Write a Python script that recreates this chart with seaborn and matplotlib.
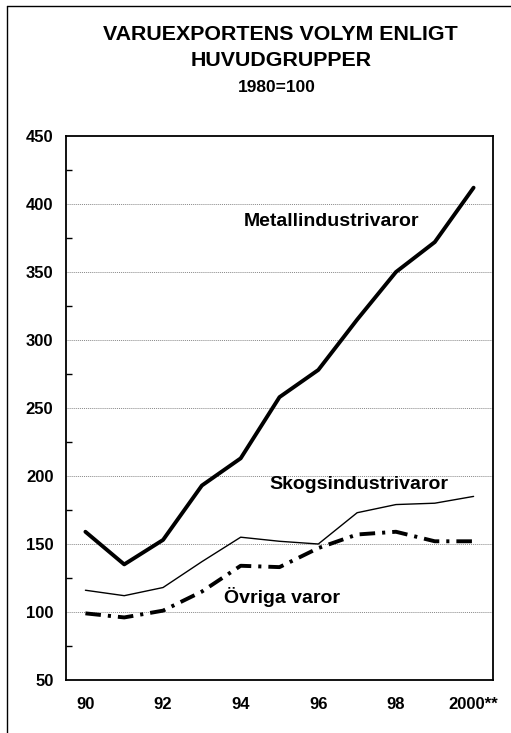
import numpy as np
import pandas as pd
import matplotlib
matplotlib.use("Agg")
import matplotlib.pyplot as plt
from matplotlib.lines import Line2D
from matplotlib.ticker import MultipleLocator, FixedLocator, NullFormatter
import seaborn as sns

# --- data (index 1980=100) ---
years = [1990, 1991, 1992, 1993, 1994, 1995, 1996, 1997, 1998, 1999, 2000]
metall = [159, 135, 153, 193, 213, 258, 278, 315, 350, 372, 412]
skog = [116, 112, 118, 137, 155, 152, 150, 173, 179, 180, 185]
ovriga = [99, 96, 101, 115, 134, 133, 147, 157, 159, 152, 152]
tick_years = [1990, 1992, 1994, 1996, 1998, 2000]
tick_labels = ["90", "92", "94", "96", "98", "2000**"]

df = pd.DataFrame({"year": years, "Metallindustrivaror": metall,
                   "Skogsindustrivaror": skog, "Övriga varor": ovriga})
long_df = df.melt(id_vars="year", var_name="grupp", value_name="index")

sns.set_theme(style="white")
plt.rcParams['font.family'] = ['Liberation Sans', 'DejaVu Sans']
plt.rcParams['font.weight'] = 'bold'
plt.rcParams['text.color'] = 'black'
plt.rcParams['xtick.color'] = 'black'
plt.rcParams['ytick.color'] = 'black'

fig = plt.figure(figsize=(5.11, 7.33), dpi=100)
ax = fig.add_axes([66 / 511, 53 / 733, (493 - 66) / 511, (680 - 136) / 733])

sns.lineplot(data=long_df, x="year", y="index", hue="grupp", style="grupp",
             palette={"Metallindustrivaror": "black", "Skogsindustrivaror": "black",
                      "Övriga varor": "black"},
             dashes={"Metallindustrivaror": "", "Skogsindustrivaror": "",
                     "Övriga varor": (4, 1.8, 0.8, 1.8)},
             size="grupp",
             sizes={"Metallindustrivaror": 2.8, "Skogsindustrivaror": 1.0,
                    "Övriga varor": 2.8},
             legend=False, ax=ax)

ax.set_xlim(1989.5, 2000.5)
ax.set_ylim(50, 450)
ax.set_xlabel("")
ax.set_ylabel("")

# y axis: major every 50, minor every 25
ax.yaxis.set_major_locator(MultipleLocator(50))
ax.yaxis.set_minor_locator(MultipleLocator(25))
ax.tick_params(axis="y", which="major", direction="inout", length=10, width=1.2,
               labelsize=12, pad=4)
ax.tick_params(axis="y", which="minor", direction="in", length=4, width=1.0, left=True)
for lab in ax.get_yticklabels():
    lab.set_fontweight("bold")

# x axis: ticks at category boundaries, labels centred on years
ax.xaxis.set_major_locator(FixedLocator(np.arange(1989.5, 2001, 1.0)))
ax.xaxis.set_major_formatter(NullFormatter())
ax.xaxis.set_minor_locator(FixedLocator(tick_years))
ax.set_xticklabels(tick_labels, minor=True, fontweight="bold", fontsize=12)
ax.tick_params(axis="x", which="major", direction="out", length=5, width=1.2)
ax.tick_params(axis="x", which="minor", length=0, pad=12, bottom=True)

# dotted grid
for v in range(100, 450, 50):
    ax.axhline(v, color="#888888", linestyle=(0, (1, 1)), linewidth=0.7, zorder=0)

for sp in ax.spines.values():
    sp.set_color("black")
    sp.set_linewidth(1.3)

# line labels
ax.text(1994.08, 387, "Metallindustrivaror", fontsize=14, fontweight="bold",
        ha="left", va="center")
ax.text(1994.73, 194, "Skogsindustrivaror", fontsize=14, fontweight="bold",
        ha="left", va="center")
ax.text(1993.57, 111, "Övriga varor", fontsize=14, fontweight="bold",
        ha="left", va="center")

# titles
fig.text(280 / 511, 1 - 34 / 733, "VARUEXPORTENS VOLYM ENLIGT", ha="center",
         va="center", fontsize=15.4, fontweight="bold")
fig.text(281 / 511, 1 - 60 / 733, "HUVUDGRUPPER", ha="center", va="center",
         fontsize=15.4, fontweight="bold")
fig.text(277 / 511, 1 - 87 / 733, "1980=100", ha="center", va="center",
         fontsize=12.5, fontweight="bold")

# outer frame (left and top edges)
fig.add_artist(Line2D([7 / 511, 7 / 511], [0, 1 - 6 / 733], color="black", lw=1.0,
                      transform=fig.transFigure))
fig.add_artist(Line2D([7 / 511, 1], [1 - 6 / 733, 1 - 6 / 733], color="black", lw=1.0,
                      transform=fig.transFigure))

fig.savefig("out.png", dpi=100)
